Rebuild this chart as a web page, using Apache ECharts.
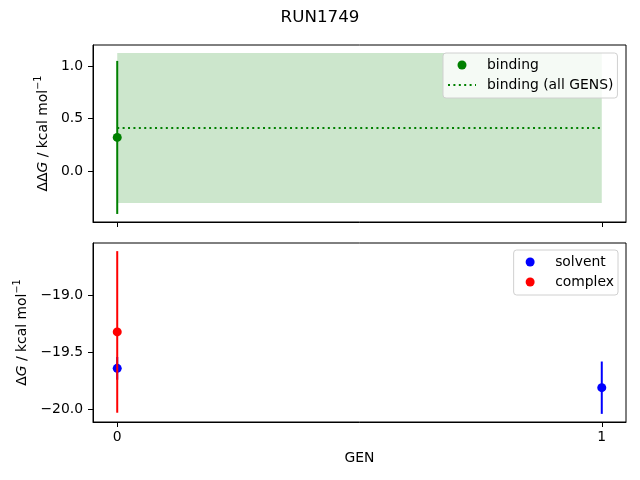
<!DOCTYPE html>
<html>
<head>
<meta charset="utf-8">
<script src="https://cdn.jsdelivr.net/npm/echarts@6/dist/echarts.min.js"></script>
<style>
  html, body { margin: 0; padding: 0; background: #fff; }
  #chart { width: 640px; height: 480px; }
</style>
</head>
<body>
<div id="chart"></div>
<script>
var title = "RUN1749";
var gens = [0, 1];
var xTicks = [0, 1];

// top panel: binding free energy per GEN
var bindingGen = [0];
var bindingVal = [0.32];
var bindingErr = [0.73];
// binding over all GENS
var bindingAllVal = [0.41];
var bindingAllErr = [0.715];

// bottom panel
var solventGen = [0, 1];
var solventVal = [-19.64, -19.81];
var solventErr = [0.1, 0.23];
var complexGen = [0];
var complexVal = [-19.32];
var complexErr = [0.71];

var topTicks = [0, 0.5, 1.0];
var bottomTicks = [-20.0, -19.5, -19.0];

var FONT = "DejaVu Sans";
var fs = 13.9;

function fmt(v) {
  return v.toFixed(1).replace('-', '\u2212');
}

function limits(lo, hi) {
  var m = (hi - lo) * 0.05;
  return [lo - m, hi + m];
}

function errData(xs, vals, errs) {
  var arr = [];
  for (var i = 0; i < xs.length; i++) {
    arr.push([xs[i], vals[i] - errs[i], vals[i] + errs[i]]);
  }
  return arr;
}

function ptData(xs, vals) {
  var arr = [];
  for (var i = 0; i < xs.length; i++) {
    arr.push([xs[i], vals[i]]);
  }
  return arr;
}

function errSeries(name, idx, xs, vals, errs, color, z) {
  return {
    name: name + ' err',
    type: 'custom',
    xAxisIndex: idx,
    yAxisIndex: idx,
    z: z,
    silent: true,
    color: color,
    encode: { x: 0, y: [1, 2] },
    data: errData(xs, vals, errs),
    renderItem: function(params, api) {
      var p1 = api.coord([api.value(0), api.value(1)]);
      var p2 = api.coord([api.value(0), api.value(2)]);
      return {
        type: 'line',
        shape: { x1: p1[0], y1: p1[1], x2: p2[0], y2: p2[1] },
        style: { stroke: color, lineWidth: 2 }
      };
    }
  };
}

function ptSeries(name, idx, xs, vals, color, z) {
  return {
    name: name,
    type: 'scatter',
    xAxisIndex: idx,
    yAxisIndex: idx,
    z: z,
    symbol: 'circle',
    symbolSize: 9,
    color: color,
    itemStyle: { color: color, opacity: 1 },
    data: ptData(xs, vals)
  };
}

var allLo = bindingAllVal[0] - bindingAllErr[0];
var allHi = bindingAllVal[0] + bindingAllErr[0];
var topLim = limits(Math.min(bindingVal[0] - bindingErr[0], allLo), Math.max(bindingVal[0] + bindingErr[0], allHi));
var botLim = limits(
  Math.min(solventVal[0] - solventErr[0], solventVal[1] - solventErr[1], complexVal[0] - complexErr[0]),
  Math.max(solventVal[0] + solventErr[0], solventVal[1] + solventErr[1], complexVal[0] + complexErr[0])
);
var xLim = limits(gens[0], gens[gens.length - 1]);

var nameStyle = {
  fontFamily: FONT,
  fontSize: fs,
  color: '#000',
  rich: {
    n: { fontFamily: FONT, fontSize: fs, color: '#000', lineHeight: 20 },
    i: { fontFamily: FONT, fontSize: fs, color: '#000', fontStyle: 'italic', lineHeight: 20 },
    s: { fontFamily: FONT, fontSize: 9.7, color: '#000', verticalAlign: 'top', lineHeight: 20 }
  }
};

function xAxisOpt(idx, showLabel, name) {
  return {
    type: 'value',
    gridIndex: idx,
    min: xLim[0],
    max: xLim[1],
    name: name,
    nameLocation: 'middle',
    nameGap: 29,
    nameTextStyle: { fontFamily: FONT, fontSize: fs, color: '#000' },
    splitLine: { show: false },
    axisLine: { onZero: false, lineStyle: { color: '#000', width: 1 } },
    axisTick: { show: true, length: 5, lineStyle: { color: '#000' }, customValues: xTicks },
    axisLabel: { show: showLabel, margin: 8, fontFamily: FONT, fontSize: fs, color: '#000', customValues: xTicks,
      formatter: function(v) { return String(v); } }
  };
}

function yAxisOpt(idx, lim, ticks, name, gap) {
  return {
    type: 'value',
    gridIndex: idx,
    min: lim[0],
    max: lim[1],
    name: name,
    nameLocation: 'middle',
    nameRotate: 90,
    nameGap: gap,
    nameTextStyle: nameStyle,
    splitLine: { show: false },
    axisLine: { show: true, onZero: false, lineStyle: { color: '#000', width: 1 } },
    axisTick: { show: true, length: 5, lineStyle: { color: '#000' }, customValues: ticks },
    axisLabel: { margin: 10, fontFamily: FONT, fontSize: fs, color: '#000', customValues: ticks,
      formatter: function(v) { return fmt(v); } }
  };
}

var legendBase = {
  orient: 'vertical',
  backgroundColor: 'rgba(255,255,255,0.8)',
  borderColor: '#d0d0d0',
  borderWidth: 1,
  borderRadius: 3,
  padding: [5, 4, 6, 4],
  itemGap: 6,
  itemWidth: 28,
  itemHeight: 9,
  textStyle: { fontFamily: FONT, fontSize: fs, color: '#000', padding: [0, 0, 0, 6] }
};

var option = {
  animation: false,
  backgroundColor: '#fff',
  title: {
    text: title,
    left: 'center',
    top: 4,
    textStyle: { fontFamily: FONT, fontSize: 16.7, fontWeight: 'normal', color: '#000' }
  },
  grid: [
    { left: 93, right: 14, top: 45, height: 177, show: true, borderColor: '#000', borderWidth: 1, backgroundColor: 'transparent' },
    { left: 93, right: 14, top: 243, height: 179, show: true, borderColor: '#000', borderWidth: 1, backgroundColor: 'transparent' }
  ],
  legend: [
    Object.assign({}, legendBase, {
      left: 443, top: 53,
      data: [
        { name: 'binding', icon: 'circle' },
        { name: 'binding (all GENS)', itemStyle: { opacity: 0 } }
      ]
    }),
    Object.assign({}, legendBase, {
      right: 22, top: 250,
      padding: [5, 4, 6, 12],
      data: [
        { name: 'solvent', icon: 'circle' },
        { name: 'complex', icon: 'circle' }
      ]
    })
  ],
  xAxis: [xAxisOpt(0, false, ''), xAxisOpt(1, true, 'GEN')],
  yAxis: [
    yAxisOpt(0, topLim, topTicks, '{n|\u0394\u0394}{i|G}{n| / kcal mol}{s|\u22121}', 39),
    yAxisOpt(1, botLim, bottomTicks, '{n|\u0394}{i|G}{n| / kcal mol}{s|\u22121}', 57)
  ],
  series: [
    {
      name: 'binding (all GENS)',
      type: 'line',
      xAxisIndex: 0,
      yAxisIndex: 0,
      z: 2,
      symbol: 'none',
      color: 'green',
      lineStyle: { color: 'green', width: 2, type: [2, 3.4] },
      data: [[gens[0], bindingAllVal[0]], [gens[gens.length - 1], bindingAllVal[0]]],
      markArea: {
        silent: true,
        itemStyle: { color: 'rgba(0,128,0,0.2)' },
        data: [[{ coord: [gens[0], allLo] }, { coord: [gens[gens.length - 1], allHi] }]]
      }
    },
    errSeries('binding', 0, bindingGen, bindingVal, bindingErr, 'green', 3),
    ptSeries('binding', 0, bindingGen, bindingVal, 'green', 4),
    errSeries('solvent', 1, solventGen, solventVal, solventErr, 'blue', 2),
    ptSeries('solvent', 1, solventGen, solventVal, 'blue', 3),
    errSeries('complex', 1, complexGen, complexVal, complexErr, 'red', 4),
    ptSeries('complex', 1, complexGen, complexVal, 'red', 5)
  ]
};

var chart = echarts.init(document.getElementById('chart'));
chart.setOption(option);
</script>
</body>
</html>
